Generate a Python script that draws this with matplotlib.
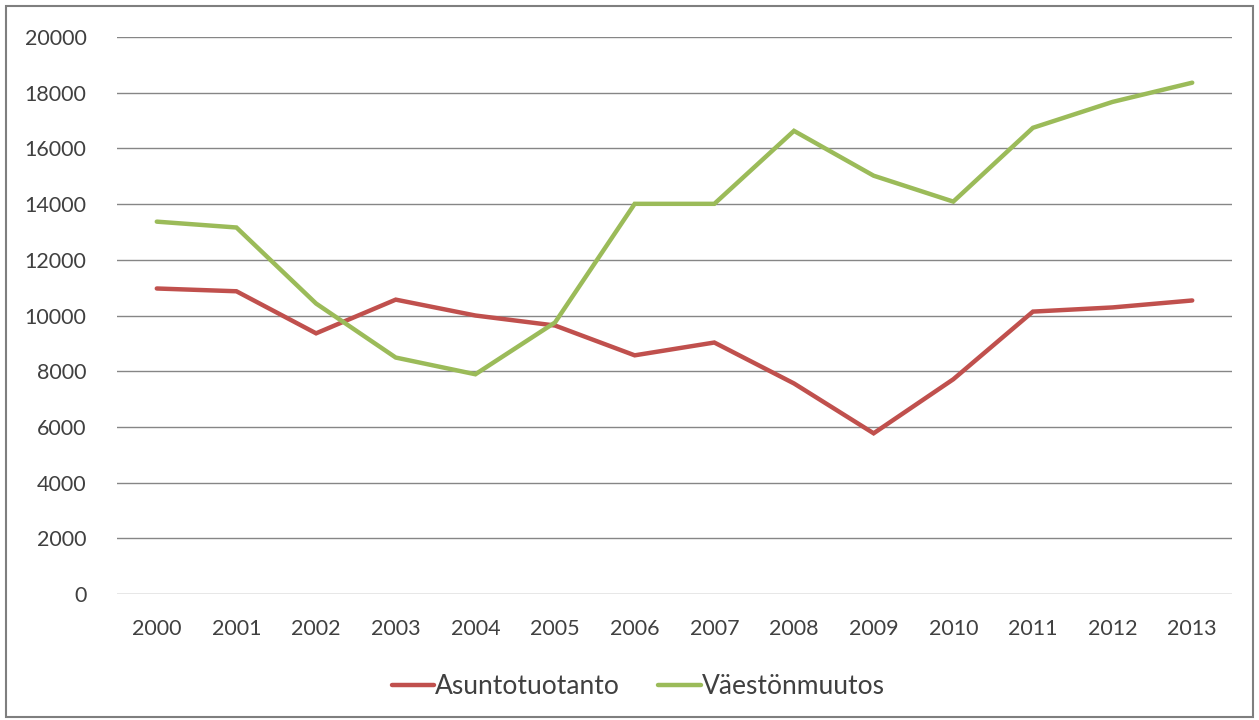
import matplotlib.pyplot as plt
from matplotlib.patches import Rectangle

years = ['2000', '2001', '2002', '2003', '2004', '2005', '2006',
         '2007', '2008', '2009', '2010', '2011', '2012', '2013']
asuntotuotanto = [10970, 10870, 9360, 10570, 10000, 9640, 8570,
                  9030, 7560, 5770, 7710, 10140, 10290, 10540]
vaestonmuutos = [13370, 13160, 10430, 8490, 7890, 9750, 14010,
                 14010, 16630, 15020, 14090, 16740, 17670, 18360]

plt.rcParams['font.family'] = ['Lato', 'DejaVu Sans']

fig = plt.figure(figsize=(12.59, 7.2), dpi=100)
ax = fig.add_axes([0.0929, 0.175, 0.8857, 0.7736])

x = range(len(years))
ax.plot(x, asuntotuotanto, color='#C0504D', linewidth=3.2, label='Asuntotuotanto',
        solid_capstyle='round', solid_joinstyle='miter')
ax.plot(x, vaestonmuutos, color='#9BBB59', linewidth=3.2, label='Väestönmuutos',
        solid_capstyle='round', solid_joinstyle='miter')

ax.set_xlim(-0.5, len(years) - 0.5)
ax.set_ylim(0, 20000)
ax.set_yticks(range(0, 20001, 2000))
ax.set_xticks(list(x))
ax.set_xticklabels(years)
ax.yaxis.grid(True, color='#868686', linewidth=1.0)
ax.set_axisbelow(True)
for s in ax.spines.values():
    s.set_visible(False)
ax.tick_params(axis='both', length=0, labelsize=15.5, colors='#404040')
ax.tick_params(axis='y', pad=22)
ax.tick_params(axis='x', pad=18)

fig.legend(loc='center', bbox_to_anchor=(0.507, 0.046), ncol=2, frameon=False,
           fontsize=19, handlelength=1.6, handletextpad=0.05, columnspacing=1.45,
           labelcolor='#404040')

fig.patches.append(Rectangle((0.005, 0.004), 0.99, 0.987, transform=fig.transFigure,
                             fill=False, edgecolor='#7f7f7f', linewidth=1.5))

fig.savefig('out.png', dpi=100)
